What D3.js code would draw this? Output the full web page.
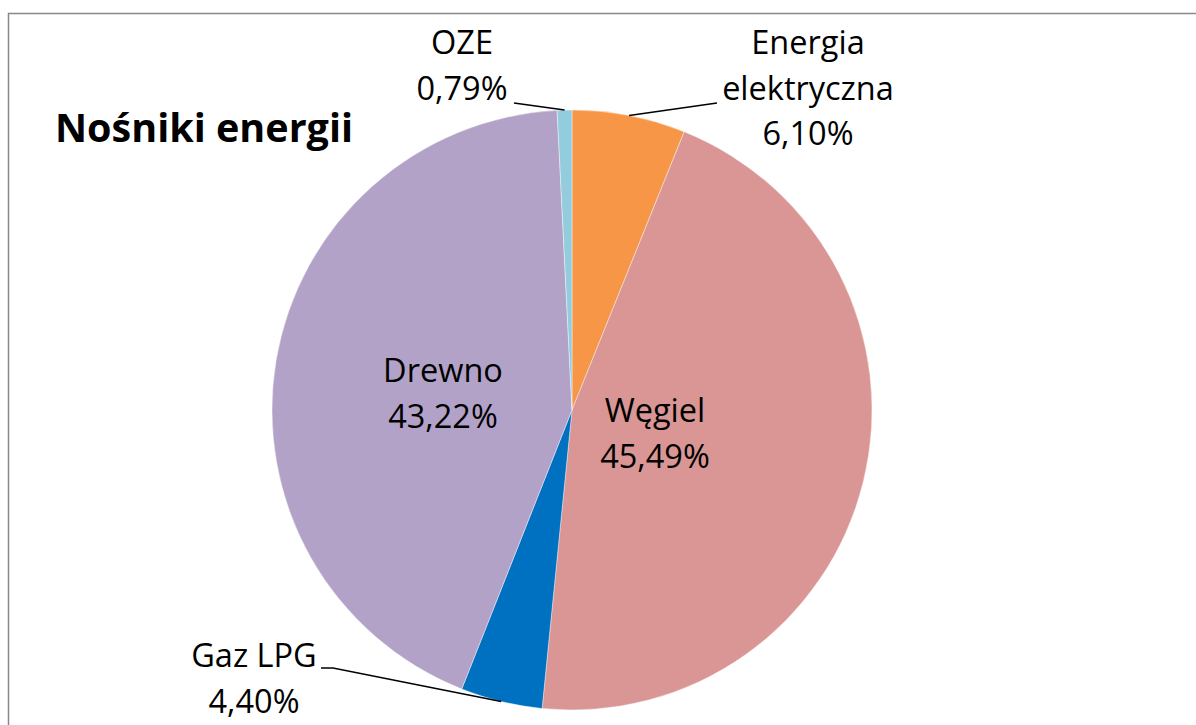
<!DOCTYPE html>
<html lang="pl">
<head>
<meta charset="UTF-8">
<title>Nośniki energii</title>
<script src="https://d3js.org/d3.v7.min.js"></script>
<style>
    body { margin: 0; background: #fff; }
    text { font-family: "Open Sans", "Noto Sans", sans-serif; fill: #000; }
</style>
</head>
<body>
<svg id="chart" width="1196" height="725"></svg>
<script>
    // data, clockwise from 12 o'clock
    const categories = ["Energia elektryczna", "Węgiel", "Gaz LPG", "Drewno", "OZE"];
    const shares = [6.10, 45.49, 4.40, 43.22, 0.79];
    const valueLabels = ["6,10%", "45,49%", "4,40%", "43,22%", "0,79%"];
    const colors = ["#f79646", "#d99694", "#0070c0", "#b3a2c7", "#93cddd"];

    const svg = d3.select("#chart");
    const cx = 572, cy = 410, radius = 300;

    // frame (only top and left are visible in the window)
    svg.append("rect")
        .attr("x", 8.5).attr("y", 13.5)
        .attr("width", 1300).attr("height", 800)
        .attr("fill", "none")
        .attr("stroke", "#888")
        .attr("stroke-width", 1.5);

    svg.append("text")
        .attr("x", 55).attr("y", 142)
        .attr("font-size", 39.5)
        .attr("font-weight", "bold")
        .text("Nośniki energii");

    const pie = d3.pie().sort(null).value(d => d.value);
    const arc = d3.arc().innerRadius(0).outerRadius(radius);
    const data = categories.map((c, i) => ({name: c, value: shares[i], label: valueLabels[i], color: colors[i]}));
    const arcs = pie(data);

    const g = svg.append("g").attr("transform", `translate(${cx},${cy})`);
    g.selectAll("path")
        .data(arcs)
        .enter().append("path")
        .attr("d", arc)
        .attr("fill", d => d.data.color)
        .attr("stroke", "#fff")
        .attr("stroke-width", 0.4);

    // label placement (absolute page coords): lines of text, centre x, first baseline, leader end
    const lineH = 45.5;
    const place = {
        "Energia elektryczna": {lines: ["Energia", "elektryczna"], x: 808, y: 54, leader: [[717, 103]]},
        "Węgiel": {lines: ["Węgiel"], x: 655, y: 422},
        "Gaz LPG": {lines: ["Gaz LPG"], x: 254, y: 667, leader: [[321, 668], [333, 668]]},
        "Drewno": {lines: ["Drewno"], x: 443, y: 382},
        "OZE": {lines: ["OZE"], x: 462, y: 54, leader: [[514, 103]]}
    };

    arcs.forEach(a => {
        const p = place[a.data.name];
        const t = svg.append("text")
            .attr("text-anchor", "middle")
            .attr("font-size", 32.5);
        p.lines.concat([a.data.label]).forEach((s, i) => {
            t.append("tspan")
                .attr("x", p.x)
                .attr("y", p.y + i * lineH)
                .text(s);
        });
        if (p.leader) {
            const mid = (a.startAngle + a.endAngle) / 2;
            const edge = [cx + radius * Math.sin(mid), cy - radius * Math.cos(mid)];
            svg.append("path")
                .attr("d", d3.line()(p.leader.concat([edge])))
                .attr("fill", "none")
                .attr("stroke", "#000")
                .attr("stroke-width", 1.5);
        }
    });
</script>
</body>
</html>
